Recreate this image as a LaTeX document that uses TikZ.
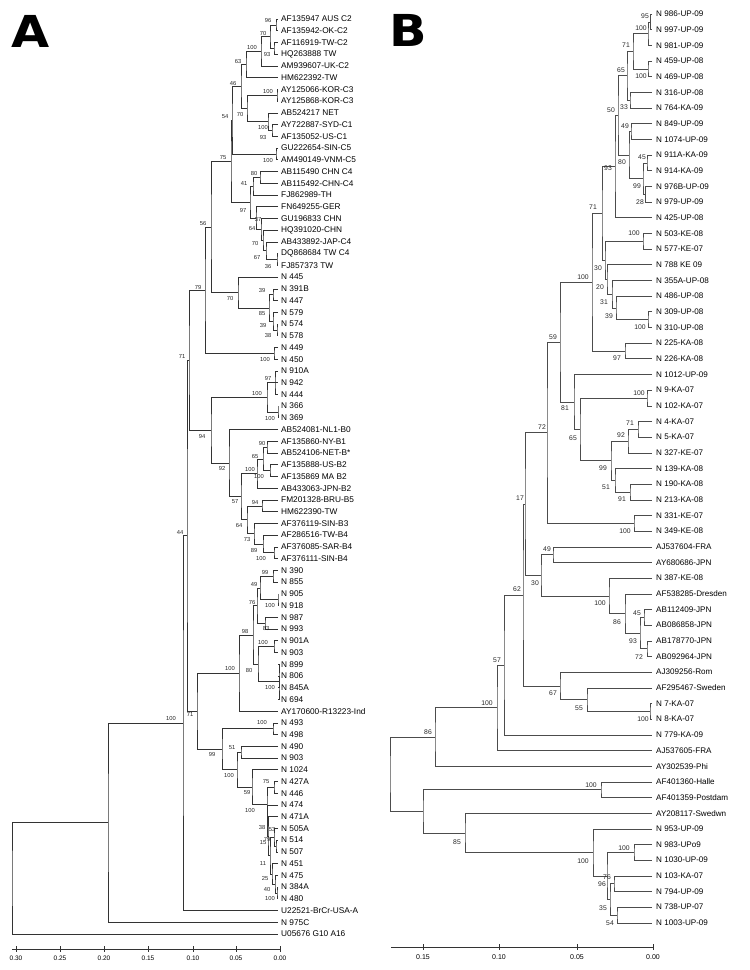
\documentclass[tikz,border=0pt]{standalone}
\usepackage{fontspec}
\setmainfont{Liberation Sans}
\newfontfamily\heavyfont{DejaVu Sans}
\usetikzlibrary{calc}
\newcounter{bsn}
\tikzset{
 br/.style={line width=0.55pt, draw=black!80},
 brb/.style={line width=0.5pt, draw=black!70},
 leafa/.style={anchor=west, inner xsep=3pt, inner ysep=0pt, font=\fontsize{8.3}{9}\selectfont},
 leafb/.style={anchor=west, inner xsep=4pt, inner ysep=0pt, font=\fontsize{8.1}{9}\selectfont},
 bsa/.style={inner sep=0pt, font=\fontsize{5.8}{6}\selectfont, text=black!85},
 bsb/.style={inner sep=0pt, font=\fontsize{6.8}{7}\selectfont, text=black!85},
 ticklab/.style={inner sep=0pt, font=\fontsize{6.5}{7}\selectfont},
 axis/.style={line width=0.6pt, draw=black!80},
 panel/.style={inner sep=0pt, anchor=base west, xscale=1.12, font=\heavyfont\bfseries\fontsize{44}{44}\selectfont},
}
\newcommand\TNode[5][br]{%
 \coordinate (m#2) at ($(#4)!0.5!(#5)$);
 \coordinate (#2) at (#3,0 |- m#2);
 \draw[#1] (#4) -| (#2) |- (#5);}
\newcommand\LeafA[3]{\coordinate (#1) at (278,{19+(#2-1)*11.73}); \node[leafa] (#1l) at (#1) {#3};}
\newcommand\LeafB[3]{\coordinate (#1) at (652,{14+(#2-1)*15.67}); \node[leafb] (#1l) at (#1) {#3};}
\newcommand\bsA[3]{\stepcounter{bsn}\node[bsa] (bs\thebsn) at (#1,#2) {#3};}
\newcommand\bsB[3]{\stepcounter{bsn}\node[bsb] (bs\thebsn) at (#1,#2) {#3};}
\begin{document}
\begin{tikzpicture}[x=1pt,y=-1pt]
\useasboundingbox (0,0) rectangle (750,970);
\node[panel] (lettA) at (11,47) {A};
\node[panel] (lettB) at (389,46) {B};
% ---------------- Panel A leaves
\LeafA{a1}{1}{AF135947 AUS C2}
\LeafA{a2}{2}{AF135942-OK-C2}
\LeafA{a3}{3}{AF116919-TW-C2}
\LeafA{a4}{4}{HQ263888 TW}
\LeafA{a5}{5}{AM939607-UK-C2}
\LeafA{a6}{6}{HM622392-TW}
\LeafA{a7}{7}{AY125066-KOR-C3}
\LeafA{a8}{8}{AY125868-KOR-C3}
\LeafA{a9}{9}{AB524217 NET}
\LeafA{a10}{10}{AY722887-SYD-C1}
\LeafA{a11}{11}{AF135052-US-C1}
\LeafA{a12}{12}{GU222654-SIN-C5}
\LeafA{a13}{13}{AM490149-VNM-C5}
\LeafA{a14}{14}{AB115490 CHN C4}
\LeafA{a15}{15}{AB115492-CHN-C4}
\LeafA{a16}{16}{FJ862989-TH}
\LeafA{a17}{17}{FN649255-GER}
\LeafA{a18}{18}{GU196833 CHN}
\LeafA{a19}{19}{HQ391020-CHN}
\LeafA{a20}{20}{AB433892-JAP-C4}
\LeafA{a21}{21}{DQ868684 TW C4}
\LeafA{a22}{22}{FJ857373 TW}
\LeafA{a23}{23}{N 445}
\LeafA{a24}{24}{N 391B}
\LeafA{a25}{25}{N 447}
\LeafA{a26}{26}{N 579}
\LeafA{a27}{27}{N 574}
\LeafA{a28}{28}{N 578}
\LeafA{a29}{29}{N 449}
\LeafA{a30}{30}{N 450}
\LeafA{a31}{31}{N 910A}
\LeafA{a32}{32}{N 942}
\LeafA{a33}{33}{N 444}
\LeafA{a34}{34}{N 366}
\LeafA{a35}{35}{N 369}
\LeafA{a36}{36}{AB524081-NL1-B0}
\LeafA{a37}{37}{AF135860-NY-B1}
\LeafA{a38}{38}{AB524106-NET-B*}
\LeafA{a39}{39}{AF135888-US-B2}
\LeafA{a40}{40}{AF135869 MA B2}
\LeafA{a41}{41}{AB433063-JPN-B2}
\LeafA{a42}{42}{FM201328-BRU-B5}
\LeafA{a43}{43}{HM622390-TW}
\LeafA{a44}{44}{AF376119-SIN-B3}
\LeafA{a45}{45}{AF286516-TW-B4}
\LeafA{a46}{46}{AF376085-SAR-B4}
\LeafA{a47}{47}{AF376111-SIN-B4}
\LeafA{a48}{48}{N 390}
\LeafA{a49}{49}{N 855}
\LeafA{a50}{50}{N 905}
\LeafA{a51}{51}{N 918}
\LeafA{a52}{52}{N 987}
\LeafA{a53}{53}{N 993}
\LeafA{a54}{54}{N 901A}
\LeafA{a55}{55}{N 903}
\LeafA{a56}{56}{N 899}
\LeafA{a57}{57}{N 806}
\LeafA{a58}{58}{N 845A}
\LeafA{a59}{59}{N 694}
\LeafA{a60}{60}{AY170600-R13223-Ind}
\LeafA{a61}{61}{N 493}
\LeafA{a62}{62}{N 498}
\LeafA{a63}{63}{N 490}
\LeafA{a64}{64}{N 903}
\LeafA{a65}{65}{N 1024}
\LeafA{a66}{66}{N 427A}
\LeafA{a67}{67}{N 446}
\LeafA{a68}{68}{N 474}
\LeafA{a69}{69}{N 471A}
\LeafA{a70}{70}{N 505A}
\LeafA{a71}{71}{N 514}
\LeafA{a72}{72}{N 507}
\LeafA{a73}{73}{N 451}
\LeafA{a74}{74}{N 475}
\LeafA{a75}{75}{N 384A}
\LeafA{a76}{76}{N 480}
\LeafA{a77}{77}{U22521-BrCr-USA-A}
\LeafA{a78}{78}{N 975C}
\LeafA{a79}{79}{U05676 G10 A16}
% ---------------- Panel A tree
\TNode{p12}{276}{a1}{a2}
\TNode{p34}{274}{a3}{a4}
\TNode{p1x4}{270}{p12}{p34}
\TNode{p1x5}{261}{p1x4}{a5}
\TNode{p1x6}{246}{p1x5}{a6}
\TNode{p78}{277}{a7}{a8}
\TNode{p1011}{272}{a10}{a11}
\TNode{p9x11}{268}{a9}{p1011}
\TNode{p7x11}{247}{p78}{p9x11}
\TNode{p1x11}{241}{p1x6}{p7x11}
\TNode{p1213}{276}{a12}{a13}
\TNode{p1x13}{232}{p1x11}{p1213}
\TNode{p1415}{260}{a14}{a15}
\TNode{p14x16}{253}{p1415}{a16}
\TNode{p2122}{277}{a21}{a22}
\TNode{p20x22}{266}{a20}{p2122}
\TNode{p19x22}{263}{a19}{p20x22}
\TNode{p18x22}{261}{a18}{p19x22}
\TNode{p17x22}{256}{a17}{p18x22}
\TNode{p14x22}{250}{p14x16}{p17x22}
\TNode{p1x22}{231}{p1x13}{p14x22}
\TNode{p2425}{273}{a24}{a25}
\TNode{p2728}{277}{a27}{a28}
\TNode{p26x28}{273}{a26}{p2728}
\TNode{p24x28}{269}{p2425}{p26x28}
\TNode{p23x28}{238}{a23}{p24x28}
\TNode{p1x28}{211}{p1x22}{p23x28}
\TNode{p2930}{274}{a29}{a30}
\TNode{p1x30}{205}{p1x28}{p2930}
\TNode{p31x33}{275}{a31}{a33}
\draw[br] (p31x33) |- (a32);
\TNode{p3435}{278}{a34}{a35}
\TNode{p31x35}{267}{p31x33}{p3435}
\TNode{p3738}{267}{a37}{a38}
\TNode{p3940}{270}{a39}{a40}
\TNode{p37x40}{263}{p3738}{p3940}
\TNode{p37x41}{257}{p37x40}{a41}
\TNode{p4243}{262}{a42}{a43}
\TNode{p4647}{274}{a46}{a47}
\TNode{p45x47}{263}{a45}{p4647}
\TNode{p44x47}{254}{a44}{p45x47}
\TNode{p42x47}{247}{p4243}{p44x47}
\TNode{p37x47}{241}{p37x41}{p42x47}
\TNode{p36x47}{229}{a36}{p37x47}
\TNode{p31x47}{211}{p31x35}{p36x47}
\TNode{p1x47}{189}{p1x30}{p31x47}
\TNode{p4849}{273}{a48}{a49}
\TNode{p5051}{278}{a50}{a51}
\TNode{p48x51}{260}{p4849}{p5051}
\TNode{p5253}{265}{a52}{a53}
\TNode{p48x53}{257}{p48x51}{p5253}
\TNode{p5455}{274}{a54}{a55}
\TNode{p56x59}{279}{a56}{a59}
\draw[br] (p56x59) |- (a57);
\draw[br] (p56x59) |- (a58);
\TNode{p54x59}{258}{p5455}{p56x59}
\TNode{p48x59}{253}{p48x53}{p54x59}
\TNode{p48x60}{239}{p48x59}{a60}
\TNode{p6162}{273}{a61}{a62}
\TNode{p6364}{241}{a63}{a64}
\TNode{p6667}{274}{a66}{a67}
\TNode{p7172}{276}{a71}{a72}
\TNode{p70x72}{274}{a70}{p7172}
\TNode{p7576}{277}{a75}{a76}
\TNode{p74x76}{275}{a74}{p7576}
\TNode{p73x76}{272}{a73}{p74x76}
\TNode{p70x76}{270}{p70x72}{p73x76}
\TNode{p69x76}{268}{a69}{p70x76}
\TNode{p68x76}{267.5}{a68}{p69x76}
\TNode{p66x76}{267}{p6667}{p68x76}
\TNode{p65x76}{252}{a65}{p66x76}
\TNode{p63x76}{237}{p6364}{p65x76}
\TNode{p61x76}{222}{p6162}{p63x76}
\TNode{p48x76}{197}{p48x60}{p61x76}
\TNode{p1x76}{187}{p1x47}{p48x76}
\TNode{p1x77}{183}{p1x76}{a77}
\TNode{p1x78}{108}{p1x77}{a78}
\TNode{p1x79}{12}{p1x78}{a79}
% ---------------- Panel A bootstrap
\bsA{268}{20}{96}
\bsA{263}{33}{70}
\bsA{252}{47}{100}
\bsA{267}{54}{93}
\bsA{238}{61}{63}
\bsA{233}{83}{46}
\bsA{268}{91}{100}
\bsA{240}{114}{70}
\bsA{225}{117}{54}
\bsA{263}{127}{100}
\bsA{263}{137}{93}
\bsA{223}{158}{75}
\bsA{268}{160}{100}
\bsA{254}{173}{80}
\bsA{244}{183}{41}
\bsA{243}{210}{97}
\bsA{258}{219}{37}
\bsA{203}{223}{56}
\bsA{252}{228}{64}
\bsA{255}{243}{70}
\bsA{257}{257}{67}
\bsA{268}{266}{36}
\bsA{198}{287}{79}
\bsA{262}{290}{39}
\bsA{230}{298}{70}
\bsA{262}{313}{85}
\bsA{263}{325}{39}
\bsA{268}{335}{38}
\bsA{182}{356}{71}
\bsA{265}{359}{100}
\bsA{268}{378}{97}
\bsA{257}{393}{100}
\bsA{270}{418}{100}
\bsA{202}{436}{94}
\bsA{262}{443}{90}
\bsA{255}{456}{65}
\bsA{222}{468}{92}
\bsA{250}{469}{100}
\bsA{259}{476}{100}
\bsA{235}{502}{57}
\bsA{255}{502}{94}
\bsA{239}{525}{64}
\bsA{180}{532}{44}
\bsA{247}{539}{73}
\bsA{254}{550}{89}
\bsA{261}{558}{100}
\bsA{265}{572}{99}
\bsA{254}{584}{49}
\bsA{252}{602}{76}
\bsA{270}{605}{100}
\bsA{266}{628}{83}
\bsA{245}{631}{98}
\bsA{263}{642}{100}
\bsA{230}{668}{100}
\bsA{249}{670}{80}
\bsA{270}{687}{100}
\bsA{190}{714}{71}
\bsA{171}{718}{100}
\bsA{262}{722}{100}
\bsA{232}{748}{51}
\bsA{212}{754}{99}
\bsA{229}{775}{100}
\bsA{266}{782}{75}
\bsA{247}{792}{59}
\bsA{250}{810}{100}
\bsA{262}{827}{38}
\bsA{272}{829}{53}
\bsA{267}{839}{79}
\bsA{263}{843}{15}
\bsA{263}{863}{11}
\bsA{265}{878}{25}
\bsA{267}{889}{40}
\bsA{270}{898}{100}
% ---------------- Panel A scale
\draw[axis] (12,949) -- (281,949);
\foreach \xx/\lab [count=\i] in {16/0.30,60/0.25,104/0.20,148/0.15,193/0.10,236/0.05,280/0.00}{
  \draw[axis] (\xx,946) -- (\xx,952);
  \node[ticklab] (sa\i) at (\xx,958) {\lab};
}
% ---------------- Panel B leaves
\LeafB{b1}{1}{N 986-UP-09}
\LeafB{b2}{2}{N 997-UP-09}
\LeafB{b3}{3}{N 981-UP-09}
\LeafB{b4}{4}{N 459-UP-08}
\LeafB{b5}{5}{N 469-UP-08}
\LeafB{b6}{6}{N 316-UP-08}
\LeafB{b7}{7}{N 764-KA-09}
\LeafB{b8}{8}{N 849-UP-09}
\LeafB{b9}{9}{N 1074-UP-09}
\LeafB{b10}{10}{N 911A-KA-09}
\LeafB{b11}{11}{N 914-KA-09}
\LeafB{b12}{12}{N 976B-UP-09}
\LeafB{b13}{13}{N 979-UP-09}
\LeafB{b14}{14}{N 425-UP-08}
\LeafB{b15}{15}{N 503-KE-08}
\LeafB{b16}{16}{N 577-KE-07}
\LeafB{b17}{17}{N 788 KE 09}
\LeafB{b18}{18}{N 355A-UP-08}
\LeafB{b19}{19}{N 486-UP-08}
\LeafB{b20}{20}{N 309-UP-08}
\LeafB{b21}{21}{N 310-UP-08}
\LeafB{b22}{22}{N 225-KA-08}
\LeafB{b23}{23}{N 226-KA-08}
\LeafB{b24}{24}{N 1012-UP-09}
\LeafB{b25}{25}{N 9-KA-07}
\LeafB{b26}{26}{N 102-KA-07}
\LeafB{b27}{27}{N 4-KA-07}
\LeafB{b28}{28}{N 5-KA-07}
\LeafB{b29}{29}{N 327-KE-07}
\LeafB{b30}{30}{N 139-KA-08}
\LeafB{b31}{31}{N 190-KA-08}
\LeafB{b32}{32}{N 213-KA-08}
\LeafB{b33}{33}{N 331-KE-07}
\LeafB{b34}{34}{N 349-KE-08}
\LeafB{b35}{35}{AJ537604-FRA}
\LeafB{b36}{36}{AY680686-JPN}
\LeafB{b37}{37}{N 387-KE-08}
\LeafB{b38}{38}{AF538285-Dresden}
\LeafB{b39}{39}{AB112409-JPN}
\LeafB{b40}{40}{AB086858-JPN}
\LeafB{b41}{41}{AB178770-JPN}
\LeafB{b42}{42}{AB092964-JPN}
\LeafB{b43}{43}{AJ309256-Rom}
\LeafB{b44}{44}{AF295467-Sweden}
\LeafB{b45}{45}{N 7-KA-07}
\LeafB{b46}{46}{N 8-KA-07}
\LeafB{b47}{47}{N 779-KA-09}
\LeafB{b48}{48}{AJ537605-FRA}
\LeafB{b49}{49}{AY302539-Phi}
\LeafB{b50}{50}{AF401360-Halle}
\LeafB{b51}{51}{AF401359-Postdam}
\LeafB{b52}{52}{AY208117-Swedwn}
\LeafB{b53}{53}{N 953-UP-09}
\LeafB{b54}{54}{N 983-UPo9}
\LeafB{b55}{55}{N 1030-UP-09}
\LeafB{b56}{56}{N 103-KA-07}
\LeafB{b57}{57}{N 794-UP-09}
\LeafB{b58}{58}{N 738-UP-07}
\LeafB{b59}{59}{N 1003-UP-09}
% ---------------- Panel B tree
\TNode[brb]{q12}{650.5}{b1}{b2}
\TNode[brb]{q1x3}{648}{q12}{b3}
\TNode[brb]{q45}{648}{b4}{b5}
\TNode[brb]{q1x5}{633}{q1x3}{q45}
\TNode[brb]{q67}{630}{b6}{b7}
\TNode[brb]{q1x7}{627}{q1x5}{q67}
\TNode[brb]{q89}{631}{b8}{b9}
\TNode[brb]{q1011}{647}{b10}{b11}
\TNode[brb]{q1213}{645.5}{b12}{b13}
\TNode[brb]{q10x13}{643}{q1011}{q1213}
\TNode[brb]{q8x13}{629}{q89}{q10x13}
\TNode[brb]{q1x13}{618}{q1x7}{q8x13}
\TNode[brb]{q1x14}{615}{q1x13}{b14}
\TNode[brb]{q1516}{643}{b15}{b16}
\TNode[brb]{q2021}{648}{b20}{b21}
\TNode[brb]{q19x21}{616}{b19}{q2021}
\TNode[brb]{q18x21}{612}{b18}{q19x21}
\TNode[brb]{q17x21}{607}{b17}{q18x21}
\TNode[brb]{q15x21}{605}{q1516}{q17x21}
\TNode[brb]{q1x21}{602}{q1x14}{q15x21}
\TNode[brb]{q2223}{625}{b22}{b23}
\TNode[brb]{q1x23}{592}{q1x21}{q2223}
\TNode[brb]{q2526}{647}{b25}{b26}
\TNode[brb]{q2728}{638}{b27}{b28}
\TNode[brb]{q27x29}{628}{q2728}{b29}
\TNode[brb]{q3132}{630}{b31}{b32}
\TNode[brb]{q30x32}{615}{b30}{q3132}
\TNode[brb]{q27x32}{611}{q27x29}{q30x32}
\TNode[brb]{q25x32}{580}{q2526}{q27x32}
\TNode[brb]{q24x32}{574}{b24}{q25x32}
\TNode[brb]{q1x32}{560}{q1x23}{q24x32}
\TNode[brb]{q3334}{634}{b33}{b34}
\TNode[brb]{q1x34}{547}{q1x32}{q3334}
\TNode[brb]{q3536}{553}{b35}{b36}
\TNode[brb]{q3940}{644}{b39}{b40}
\TNode[brb]{q4142}{647}{b41}{b42}
\TNode[brb]{q39x42}{640}{q3940}{q4142}
\TNode[brb]{q38x42}{625}{b38}{q39x42}
\TNode[brb]{q37x42}{609}{b37}{q38x42}
\TNode[brb]{q35x42}{541}{q3536}{q37x42}
\TNode[brb]{q1x42}{525}{q1x34}{q35x42}
\TNode[brb]{q4546}{650}{b45}{b46}
\TNode[brb]{q44x46}{587}{b44}{q4546}
\TNode[brb]{q43x46}{560}{b43}{q44x46}
\TNode[brb]{q1x46}{523}{q1x42}{q43x46}
\TNode[brb]{q1x47}{504}{q1x46}{b47}
\TNode[brb]{q1x48}{497}{q1x47}{b48}
\TNode[brb]{q1x49}{435}{q1x48}{b49}
\TNode[brb]{q5051}{601}{b50}{b51}
\TNode[brb]{q5455}{634}{b54}{b55}
\TNode[brb]{q5657}{614}{b56}{b57}
\TNode[brb]{q5859}{617}{b58}{b59}
\TNode[brb]{q56x59}{610}{q5657}{q5859}
\TNode[brb]{q54x59}{607}{q5455}{q56x59}
\TNode[brb]{q53x59}{593}{b53}{q54x59}
\TNode[brb]{q52x59}{465}{b52}{q53x59}
\TNode[brb]{q50x59}{423}{q5051}{q52x59}
\TNode[brb]{qroot}{390}{q1x49}{q50x59}
% ---------------- Panel B bootstrap
\bsB{645}{16}{95}
\bsB{641}{28}{100}
\bsB{626}{45}{71}
\bsB{641}{76}{100}
\bsB{621}{70}{65}
\bsB{624}{107}{33}
\bsB{611}{110}{50}
\bsB{625}{126}{49}
\bsB{642}{157}{45}
\bsB{622}{162}{80}
\bsB{608}{168}{93}
\bsB{637}{186}{99}
\bsB{640}{202}{28}
\bsB{593}{207}{71}
\bsB{634}{233}{100}
\bsB{598}{268}{30}
\bsB{583}{277}{100}
\bsB{600}{287}{20}
\bsB{604}{302}{31}
\bsB{609}{316}{39}
\bsB{640}{327}{100}
\bsB{553}{337}{59}
\bsB{617}{358}{97}
\bsB{639}{393}{100}
\bsB{565}{408}{81}
\bsB{630}{423}{71}
\bsB{542}{427}{72}
\bsB{621}{435}{92}
\bsB{573}{438}{65}
\bsB{603}{468}{99}
\bsB{606}{487}{51}
\bsB{520}{498}{17}
\bsB{622}{499}{91}
\bsB{625}{531}{100}
\bsB{547}{549}{49}
\bsB{535}{583}{30}
\bsB{517}{589}{62}
\bsB{600}{603}{100}
\bsB{637}{613}{45}
\bsB{617}{622}{86}
\bsB{633}{641}{93}
\bsB{639}{657}{72}
\bsB{497}{660}{57}
\bsB{553}{693}{67}
\bsB{487}{703}{100}
\bsB{579}{708}{55}
\bsB{643}{719}{100}
\bsB{428}{732}{86}
\bsB{591}{785}{100}
\bsB{457}{842}{85}
\bsB{624}{848}{100}
\bsB{583}{861}{100}
\bsB{607}{877}{76}
\bsB{602}{884}{96}
\bsB{603}{908}{35}
\bsB{610}{923}{54}
% ---------------- Panel B scale
\draw[axis] (391,947) -- (653,947);
\foreach \xx/\lab [count=\i] in {423/0.15,499/0.10,577/0.05,653/0.00}{
  \draw[axis] (\xx,944) -- (\xx,950);
  \node[ticklab, font=\fontsize{7}{8}\selectfont] (sb\i) at (\xx,957) {\lab};
}
\end{tikzpicture}
\end{document}
